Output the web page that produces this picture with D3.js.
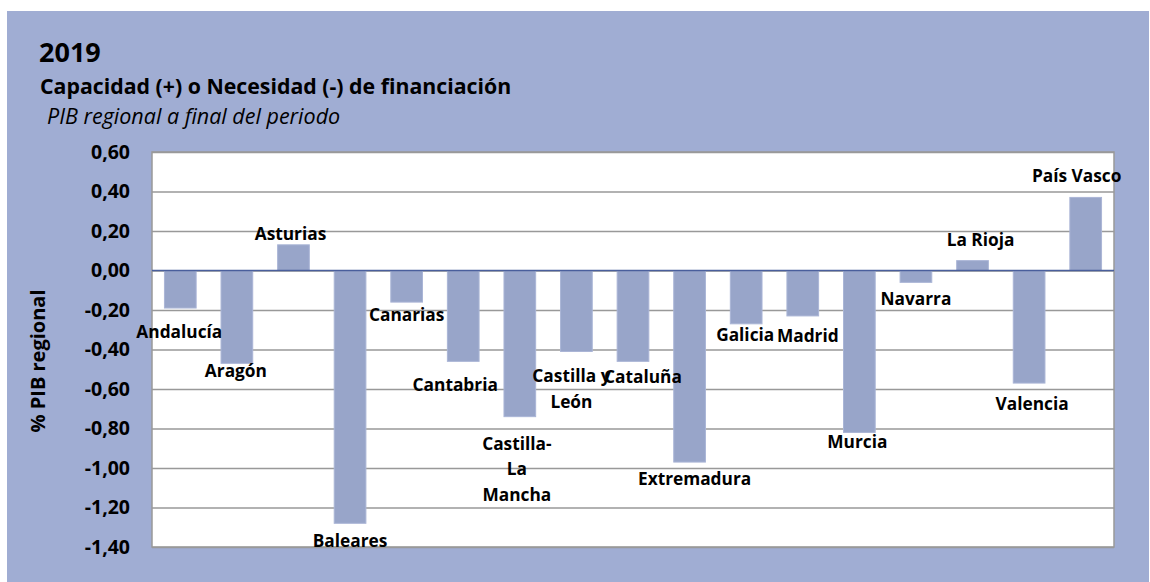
<!DOCTYPE html>
<html>
<head>
<meta charset="utf-8">
<script src="https://cdn.jsdelivr.net/npm/d3@7"></script>
<style>
  body { margin: 0; background: #fff; }
  text { font-family: "Open Sans", sans-serif; }
</style>
</head>
<body>
<script>
// data
var regions = ["Andalucía", "Aragón", "Asturias", "Baleares", "Canarias", "Cantabria",
  "Castilla-La Mancha", "Castilla y León", "Cataluña", "Extremadura", "Galicia", "Madrid",
  "Murcia", "Navarra", "La Rioja", "Valencia", "País Vasco"];
var values = [-0.19, -0.47, 0.13, -1.28, -0.16, -0.46, -0.74, -0.41, -0.46, -0.97,
  -0.27, -0.23, -0.82, -0.06, 0.05, -0.57, 0.37];
var yTicks = [0.6, 0.4, 0.2, 0, -0.2, -0.4, -0.6, -0.8, -1.0, -1.2, -1.4];

// label layout (lines, and nudge in px from the bar end), as placed in the original
var labelLines = [["Andalucía"], ["Aragón"], ["Asturias"], ["Baleares"], ["Canarias"], ["Cantabria"],
  ["Castilla-", "La", "Mancha"], ["Castilla y", "León"], ["Cataluña"], ["Extremadura"],
  ["Galicia"], ["Madrid"], ["Murcia"], ["Navarra"], ["La Rioja"], ["Valencia"], ["País Vasco"]];
var labelDx = [-1, -1, -3, 0, 0, -8, -3, -5, 10, 5, -1, 5, -2, 0, 8, 3, -9];
var labelDy = [24, 8, -11, 18, 13, 24, 27, 25, 16, 17, 11, 20, 10, 17, -21, 21, -21];

var W = 1150, H = 582;
var svg = d3.select("body").append("svg").attr("width", W).attr("height", H);

svg.append("rect").attr("x", 7).attr("y", 11).attr("width", 1142).attr("height", H - 11)
  .attr("fill", "#a0add3");

svg.append("text").attr("x", 39).attr("y", 62).text("2019")
  .style("font-size", "27px").style("font-weight", "bold");
svg.append("text").attr("x", 40).attr("y", 94).text("Capacidad (+) o Necesidad (-) de financiación")
  .style("font-size", "21.3px").style("font-weight", "bold");
svg.append("text").attr("x", 47).attr("y", 123.5).text("PIB regional a final del periodo")
  .style("font-size", "21.5px").style("font-style", "italic");

var pLeft = 152, pRight = 1114, pTop = 152, pBottom = 547;

var x = d3.scaleBand().domain(regions).range([pLeft, pRight]).paddingInner(0.44).paddingOuter(0.22);
var y = d3.scaleLinear().domain([-1.4, 0.6]).range([pBottom, pTop]);

svg.append("rect").attr("x", pLeft).attr("y", pTop).attr("width", pRight - pLeft).attr("height", pBottom - pTop)
  .attr("fill", "#fff").attr("stroke", "#999").attr("stroke-width", 1.5);

var fmt = function(d) { return d3.format(".2f")(d).replace(".", ",").replace("−", "-"); };

var grid = svg.append("g").attr("transform", "translate(" + pLeft + ",0)")
  .call(d3.axisLeft(y).tickValues(yTicks).tickSize(-(pRight - pLeft)).tickFormat(fmt));
grid.select(".domain").remove();
grid.selectAll(".tick line").attr("stroke", "#999").attr("stroke-width", 1.5);
grid.selectAll(".tick text").attr("x", -22).attr("fill", "#000")
  .style("font-size", "19.5px").style("font-weight", "bold")
  .style("font-family", "'Open Sans', sans-serif");

svg.append("g").selectAll("rect").data(values).enter().append("rect")
  .attr("x", function(d, i) { return x(regions[i]); })
  .attr("y", function(d) { return y(Math.max(0, d)); })
  .attr("width", x.bandwidth())
  .attr("height", function(d) { return Math.abs(y(d) - y(0)); })
  .attr("fill", "#98a5c9").attr("stroke", "#aab5d6").attr("stroke-width", 1);

svg.append("line").attr("x1", pLeft).attr("x2", pRight).attr("y1", y(0)).attr("y2", y(0))
  .attr("stroke", "#4a5f9c").attr("stroke-width", 1.5);

var lab = svg.append("g").selectAll("text").data(values).enter().append("text")
  .attr("text-anchor", "middle")
  .style("font-size", "17.3px").style("font-weight", "bold")
  .attr("transform", function(d, i) {
    return "translate(" + (x(regions[i]) + x.bandwidth() / 2 + labelDx[i]) + "," + (y(d) + labelDy[i]) + ")";
  });
lab.each(function(d, i) {
  var t = d3.select(this);
  labelLines[i].forEach(function(s, k) {
    t.append("tspan").attr("x", 0).attr("y", k * 25.5 + 6).text(s);
  });
});

svg.append("text").attr("transform", "translate(45,361) rotate(-90)")
  .attr("text-anchor", "middle").text("% PIB regional")
  .style("font-size", "20px").style("font-weight", "bold");
</script>
</body>
</html>
